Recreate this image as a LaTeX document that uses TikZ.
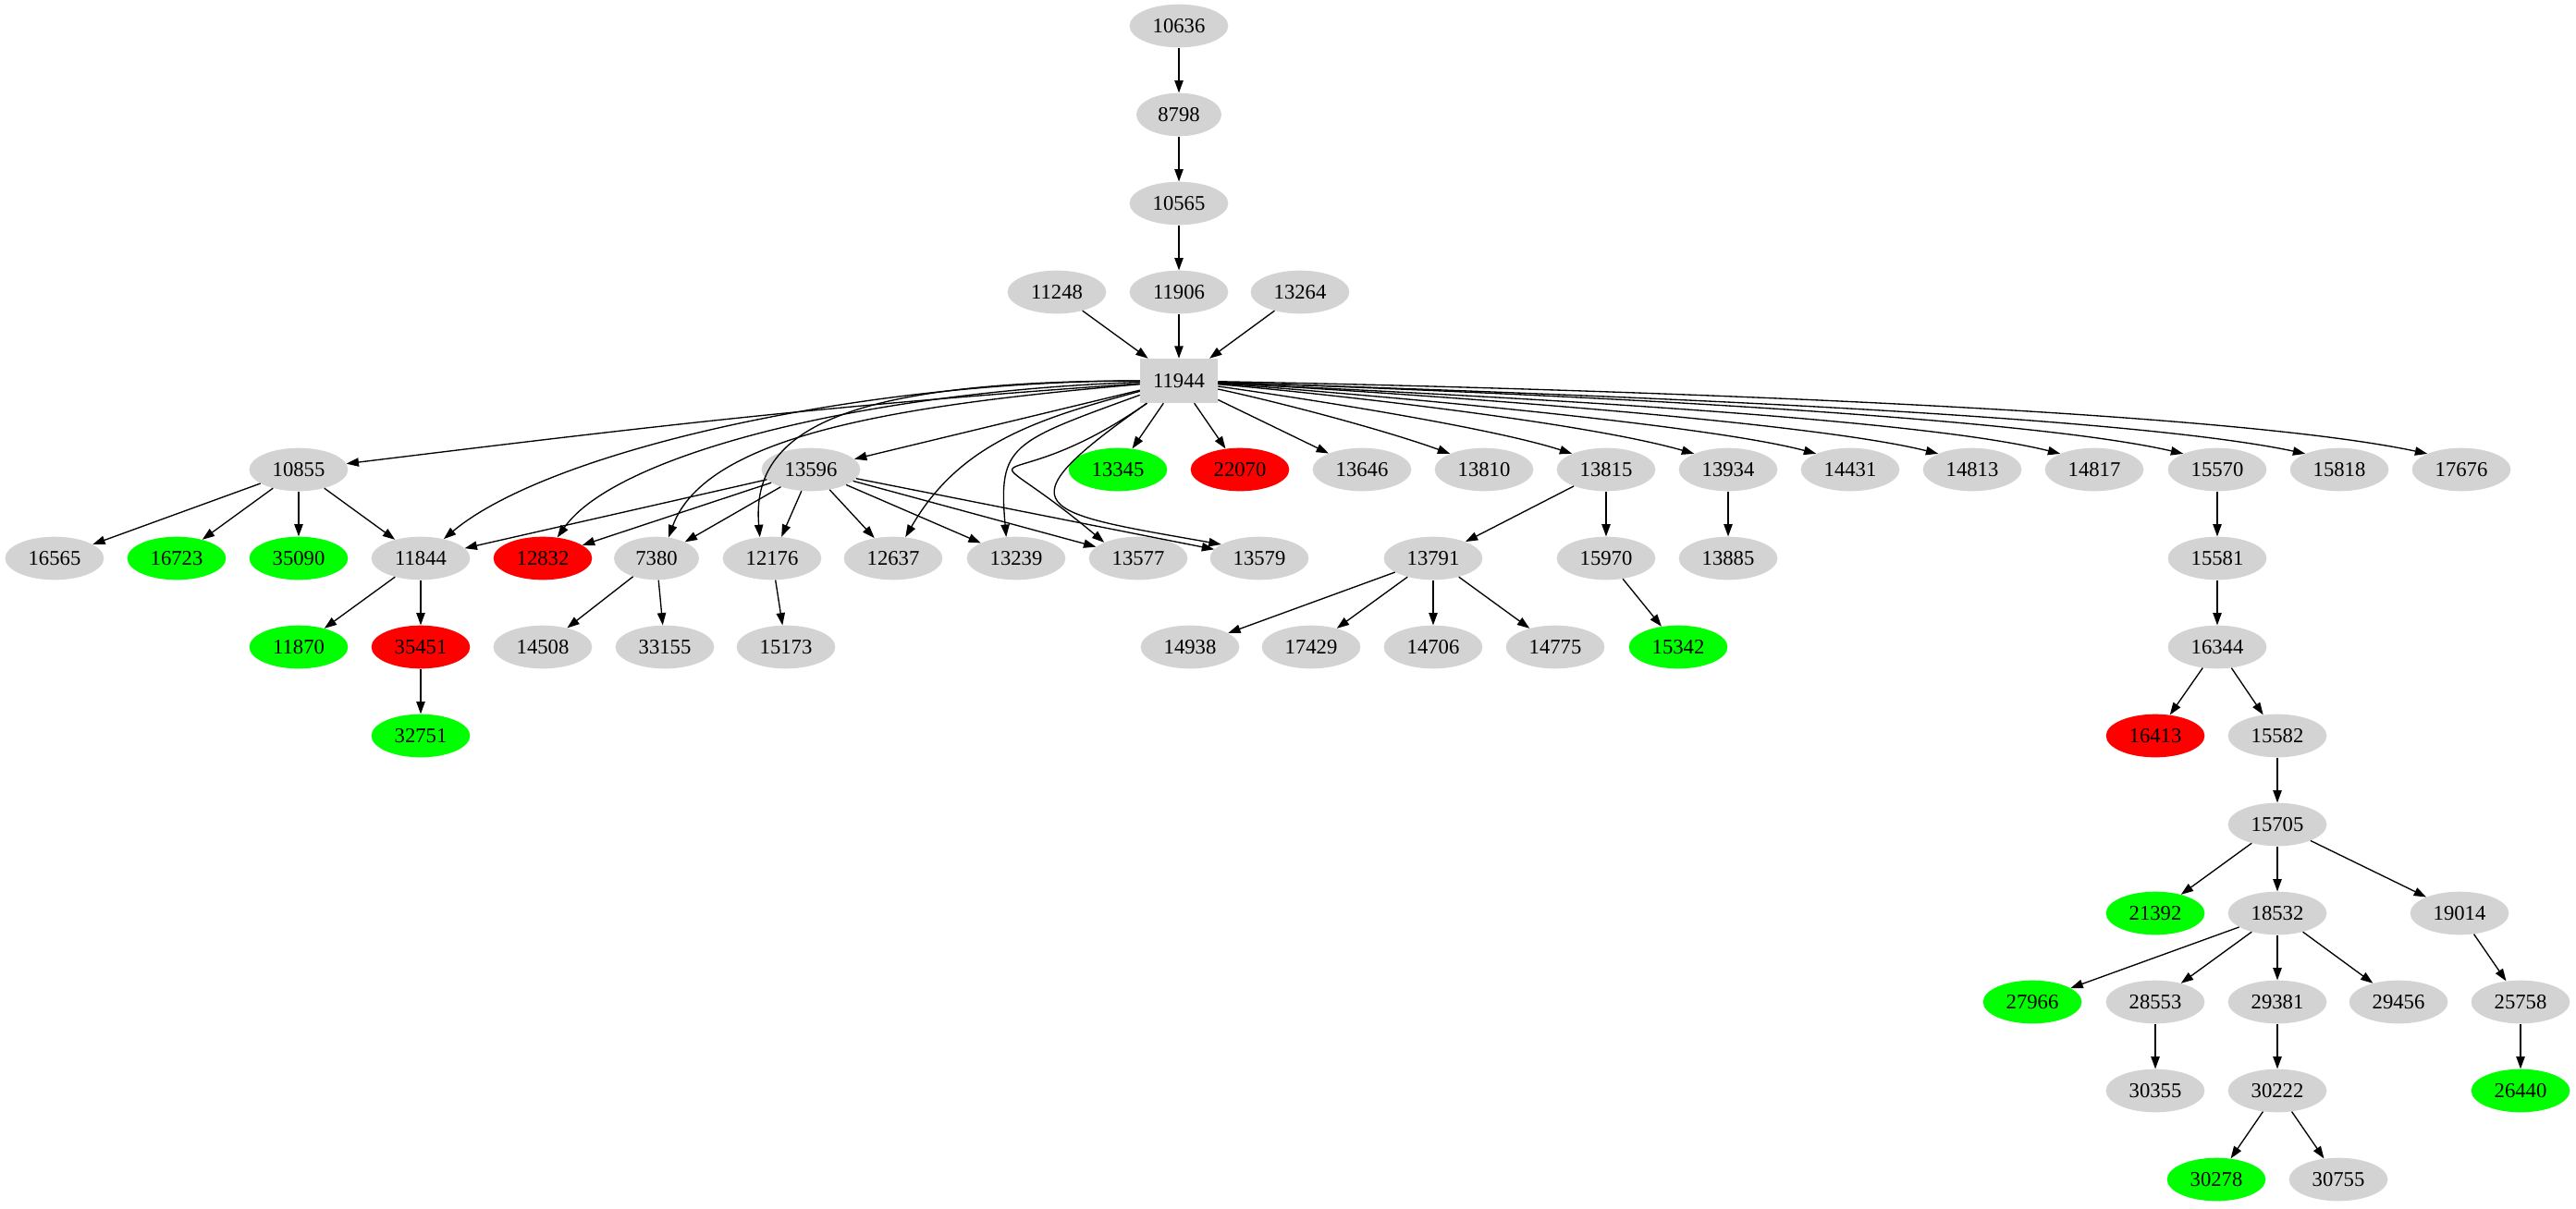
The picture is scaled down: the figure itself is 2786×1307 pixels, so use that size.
\documentclass[tikz,border=0pt]{standalone}
\usepackage{fontspec}
\setmainfont{Liberation Serif}
\usepackage{tikz}
\usetikzlibrary{shapes.geometric,arrows.meta}
\definecolor{lgray}{RGB}{211,211,211}
\definecolor{lgreen}{RGB}{0,255,0}
\definecolor{lred}{RGB}{255,0,0}

\begin{document}
\begin{tikzpicture}[x=0.75pt,y=0.75pt,
  vtx/.style={ellipse,fill=lgray,minimum width=80pt,minimum height=35pt,inner sep=0pt,font=\fontsize{17}{20}\selectfont},
  vtxs/.style={vtx,minimum width=69pt},
  found/.style={vtx,fill=lgreen},
  lost/.style={vtx,fill=lred},
  root/.style={rectangle,fill=lgray,minimum width=63pt,minimum height=36pt,inner sep=0pt,font=\fontsize{17}{20}\selectfont},
  link/.style={line width=1pt,-{Triangle[length=10pt,width=7pt]}}]
\useasboundingbox (0,0) rectangle (2786,-1307);

\node[vtx] (v10636) at (1275,-28) {10636};
\node[vtxs] (v8798) at (1275,-124) {8798};
\node[vtx] (v10565) at (1275,-220) {10565};
\node[vtx] (v11248) at (1143,-316) {11248};
\node[vtx] (v11906) at (1275,-316) {11906};
\node[vtx] (v13264) at (1406,-316) {13264};
\node[root] (v11944) at (1275,-412) {11944};

\node[vtx] (v10855) at (323,-508) {10855};
\node[vtx] (v13596) at (877,-508) {13596};
\node[found] (v13345) at (1209,-508) {13345};
\node[lost] (v22070) at (1341,-508) {22070};
\node[vtx] (v13646) at (1473,-508) {13646};
\node[vtx] (v13810) at (1605,-508) {13810};
\node[vtx] (v13815) at (1737,-508) {13815};
\node[vtx] (v13934) at (1869,-508) {13934};
\node[vtx] (v14431) at (2001,-508) {14431};
\node[vtx] (v14813) at (2133,-508) {14813};
\node[vtx] (v14817) at (2265,-508) {14817};
\node[vtx] (v15570) at (2398,-508) {15570};
\node[vtx] (v15818) at (2530,-508) {15818};
\node[vtx] (v17676) at (2662,-508) {17676};

\node[vtx] (v16565) at (59,-604) {16565};
\node[found] (v16723) at (191,-604) {16723};
\node[found] (v35090) at (323,-604) {35090};
\node[vtx] (v11844) at (455,-604) {11844};
\node[lost] (v12832) at (587,-604) {12832};
\node[vtxs] (v7380) at (710,-604) {7380};
\node[vtx] (v12176) at (835,-604) {12176};
\node[vtx] (v12637) at (966,-604) {12637};
\node[vtx] (v13239) at (1099,-604) {13239};
\node[vtx] (v13577) at (1231,-604) {13577};
\node[vtx] (v13579) at (1362,-604) {13579};
\node[vtx] (v13791) at (1550,-604) {13791};
\node[vtx] (v15970) at (1737,-604) {15970};
\node[vtx] (v13885) at (1869,-604) {13885};
\node[vtx] (v15581) at (2398,-604) {15581};

\node[found] (v11870) at (323,-700) {11870};
\node[lost] (v35451) at (455,-700) {35451};
\node[vtx] (v14508) at (587,-700) {14508};
\node[vtx] (v33155) at (719,-700) {33155};
\node[vtx] (v15173) at (850,-700) {15173};
\node[vtx] (v14938) at (1287,-700) {14938};
\node[vtx] (v17429) at (1418,-700) {17429};
\node[vtx] (v14706) at (1550,-700) {14706};
\node[vtx] (v14775) at (1682,-700) {14775};
\node[found] (v15342) at (1815,-700) {15342};
\node[vtx] (v16344) at (2398,-700) {16344};

\node[found] (v32751) at (455,-796) {32751};
\node[lost] (v16413) at (2331,-796) {16413};
\node[vtx] (v15582) at (2463,-796) {15582};

\node[vtx] (v15705) at (2463,-892) {15705};

\node[found] (v21392) at (2331,-988) {21392};
\node[vtx] (v18532) at (2463,-988) {18532};
\node[vtx] (v19014) at (2660,-988) {19014};

\node[found] (v27966) at (2198,-1084) {27966};
\node[vtx] (v28553) at (2331,-1084) {28553};
\node[vtx] (v29381) at (2463,-1084) {29381};
\node[vtx] (v29456) at (2594,-1084) {29456};
\node[vtx] (v25758) at (2726,-1084) {25758};

\node[vtx] (v30355) at (2331,-1180) {30355};
\node[vtx] (v30222) at (2463,-1180) {30222};
\node[found] (v26440) at (2726,-1180) {26440};

\node[found] (v30278) at (2397,-1276) {30278};
\node[vtx] (v30755) at (2529,-1276) {30755};

\path[draw,link] (v10636) -- (v8798);
\path[draw,link] (v8798) -- (v10565);
\path[draw,link] (v10565) -- (v11906);
\path[draw,link] (v11248) -- (v11944);
\path[draw,link] (v11906) -- (v11944);
\path[draw,link] (v13264) -- (v11944);

\path[draw,link] (v11944) to[out=184,in=7] (v10855);
\path[draw,link] (v11944) to[out=180,in=40,out distance=225pt,in distance=112pt] (v11844);
\path[draw,link] (v11944) to[out=182,in=55,out distance=225pt,in distance=82pt] (v12832);
\path[draw,link] (v11944) to[out=185,in=70,out distance=190pt,in distance=90pt] (v7380.60);
\path[draw,link] (v11944) to[out=180,in=95,out distance=250pt,in distance=83pt] (v12176.120);
\path[draw,link] (v11944) -- (v13596);
\path[draw,link] (v11944) to[out=195,in=60] (v12637);
\path[draw,link] (v11944) to[out=200,in=95,out distance=112pt,in distance=75pt] (v13239.115);
\path[draw,link] (v11944) to[out=215,in=140,out distance=150pt,in distance=150pt] (v13577.155);
\path[draw,link] (v11944) to[out=215,in=170,out distance=150pt,in distance=150pt] (v13579.160);
\path[draw,link] (v11944) -- (v13345);
\path[draw,link] (v11944) -- (v22070);
\path[draw,link] (v11944) -- (v13646);
\path[draw,link] (v11944) to[out=-12,in=160,looseness=0.7] (v13810.155);
\path[draw,link] (v11944) to[out=-8,in=162,looseness=0.6] (v13815.155);
\path[draw,link] (v11944) to[out=-5,in=164,looseness=0.6] (v13934.155);
\path[draw,link] (v11944) to[out=-4,in=165,looseness=0.5] (v14431.155);
\path[draw,link] (v11944) to[out=-3,in=166,looseness=0.5] (v14813.155);
\path[draw,link] (v11944) to[out=-3,in=166,looseness=0.5] (v14817.155);
\path[draw,link] (v11944) to[out=-2,in=167,looseness=0.5] (v15570.155);
\path[draw,link] (v11944) to[out=-2,in=168,looseness=0.5] (v15818.155);
\path[draw,link] (v11944) to[out=-1,in=168,looseness=0.5] (v17676.155);

\path[draw,link] (v10855) -- (v16565);
\path[draw,link] (v10855) -- (v16723);
\path[draw,link] (v10855) -- (v35090);
\path[draw,link] (v10855) -- (v11844);

\path[draw,link] (v13596) -- (v11844);
\path[draw,link] (v13596) -- (v12832);
\path[draw,link] (v13596) -- (v7380);
\path[draw,link] (v13596) -- (v12176);
\path[draw,link] (v13596) -- (v12637);
\path[draw,link] (v13596) -- (v13239);
\path[draw,link] (v13596) -- (v13577);
\path[draw,link] (v13596) -- (v13579);

\path[draw,link] (v11844) -- (v11870);
\path[draw,link] (v11844) -- (v35451);
\path[draw,link] (v35451) -- (v32751);
\path[draw,link] (v7380) -- (v14508);
\path[draw,link] (v7380) -- (v33155);
\path[draw,link] (v12176) -- (v15173);

\path[draw,link] (v13815) -- (v13791);
\path[draw,link] (v13815) -- (v15970);
\path[draw,link] (v13791) -- (v14938);
\path[draw,link] (v13791) -- (v17429);
\path[draw,link] (v13791) -- (v14706);
\path[draw,link] (v13791) -- (v14775);
\path[draw,link] (v15970) -- (v15342);
\path[draw,link] (v13934) -- (v13885);

\path[draw,link] (v15570) -- (v15581);
\path[draw,link] (v15581) -- (v16344);
\path[draw,link] (v16344) -- (v16413);
\path[draw,link] (v16344) -- (v15582);
\path[draw,link] (v15582) -- (v15705);
\path[draw,link] (v15705) -- (v21392);
\path[draw,link] (v15705) -- (v18532);
\path[draw,link] (v15705) -- (v19014);
\path[draw,link] (v18532) -- (v27966);
\path[draw,link] (v18532) -- (v28553);
\path[draw,link] (v18532) -- (v29381);
\path[draw,link] (v18532) -- (v29456);
\path[draw,link] (v19014) -- (v25758);
\path[draw,link] (v25758) -- (v26440);
\path[draw,link] (v28553) -- (v30355);
\path[draw,link] (v29381) -- (v30222);
\path[draw,link] (v30222) -- (v30278);
\path[draw,link] (v30222) -- (v30755);
\end{tikzpicture}
\end{document}
